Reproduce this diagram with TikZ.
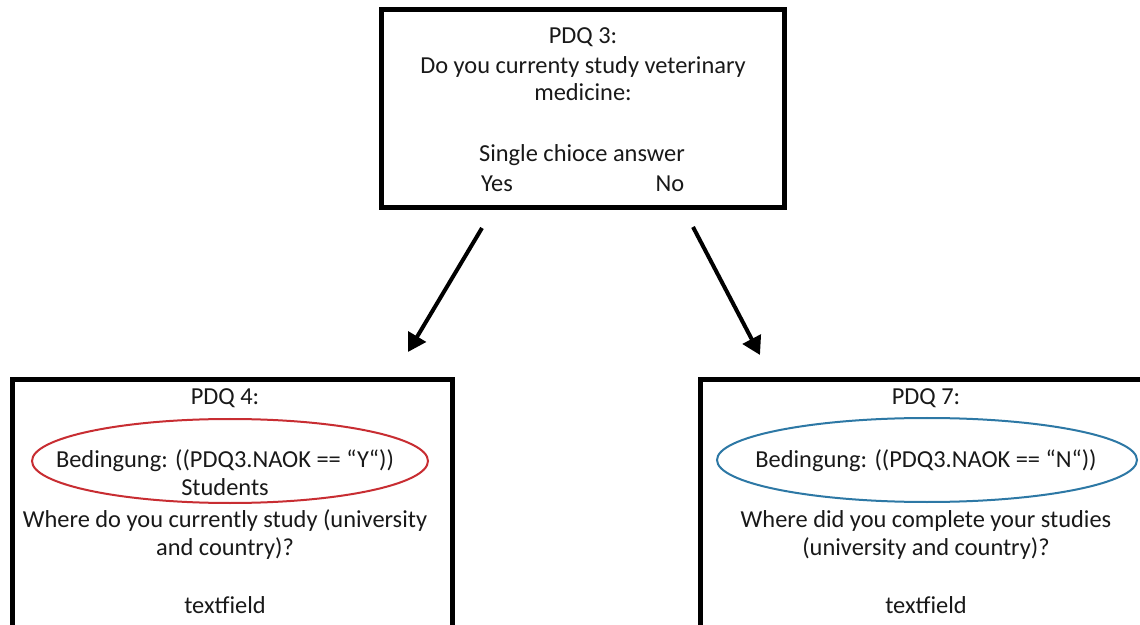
\documentclass[tikz,border=0pt]{standalone}
\usepackage{fontspec}
\setmainfont{Carlito}
\usetikzlibrary{arrows.meta,shapes.geometric}
\definecolor{ered}{RGB}{200,45,50}
\definecolor{eblue}{RGB}{45,120,165}
\definecolor{txt}{RGB}{25,25,25}
\tikzset{
  box/.style={draw=black, line width=2.5pt, fill=none, rectangle, inner sep=0pt},
  lbl/.style={text=txt, font=\fontsize{12.2}{14.5}\selectfont, inner sep=0pt, anchor=base},
  ell/.style={ellipse, line width=1pt, inner sep=0pt},
  arr/.style={line width=2pt, -{Triangle[length=9pt,width=10pt]}}
}
\begin{document}
\begin{tikzpicture}[x=0.5pt,y=-0.5pt]
\useasboundingbox (0,0) rectangle (1140,625);
\fill[white] (0,0) rectangle (1140,625);
\clip (0,0) rectangle (1140,625);
% boxes
\node[box, minimum width=201.5pt, minimum height=99pt] (top) at (582.5,109) {};
\node[box, minimum width=220pt, minimum height=135pt] (left) at (232,515) {};
\node[box, minimum width=234.75pt, minimum height=135pt] (right) at (935,515) {};
% top texts
\node[lbl] (t1) at (583,44) {PDQ 3:};
\node[lbl] (t1b) at (583,74) {Do you currenty study veterinary};
\node[lbl] (t1c) at (583,101) {medicine:};
\node[lbl] (t2) at (582,162) {Single chioce answer};
\node[lbl] (yes) at (497,192) {Yes};
\node[lbl] (no) at (670,192) {No};
% ellipses
\node[ell, draw=ered, minimum width=198pt, minimum height=42pt] (eL) at (230,461) {};
\node[ell, draw=eblue, minimum width=210pt, minimum height=42pt] (eR) at (927,460) {};
% left texts
\node[lbl] (l1) at (225,405) {PDQ 4:};
\node[lbl] (l2) at (225,467) {Bedingung: ((PDQ3.NAOK == “Y“))};
\node[lbl] (l2b) at (225,495) {Students};
\node[lbl] (l3) at (225,527) {Where do you currently study (university};
\node[lbl] (l3b) at (225,555) {and country)?};
\node[lbl] (l4) at (225,613) {textfield};
% right texts
\node[lbl] (r1) at (926,405) {PDQ 7:};
\node[lbl] (r2) at (926,467) {Bedingung: ((PDQ3.NAOK == “N“))};
\node[lbl] (r3) at (926,527) {Where did you complete your studies};
\node[lbl] (r3b) at (926,555) {(university and country)?};
\node[lbl] (r4) at (926,613) {textfield};
% arrows
\coordinate (a1s) at (482,228);
\coordinate (a1e) at (408,352);
\coordinate (a2s) at (693,227);
\coordinate (a2e) at (760,355);
\draw[arr] (a1s) -- (a1e);
\draw[arr] (a2s) -- (a2e);
\end{tikzpicture}
\end{document}
